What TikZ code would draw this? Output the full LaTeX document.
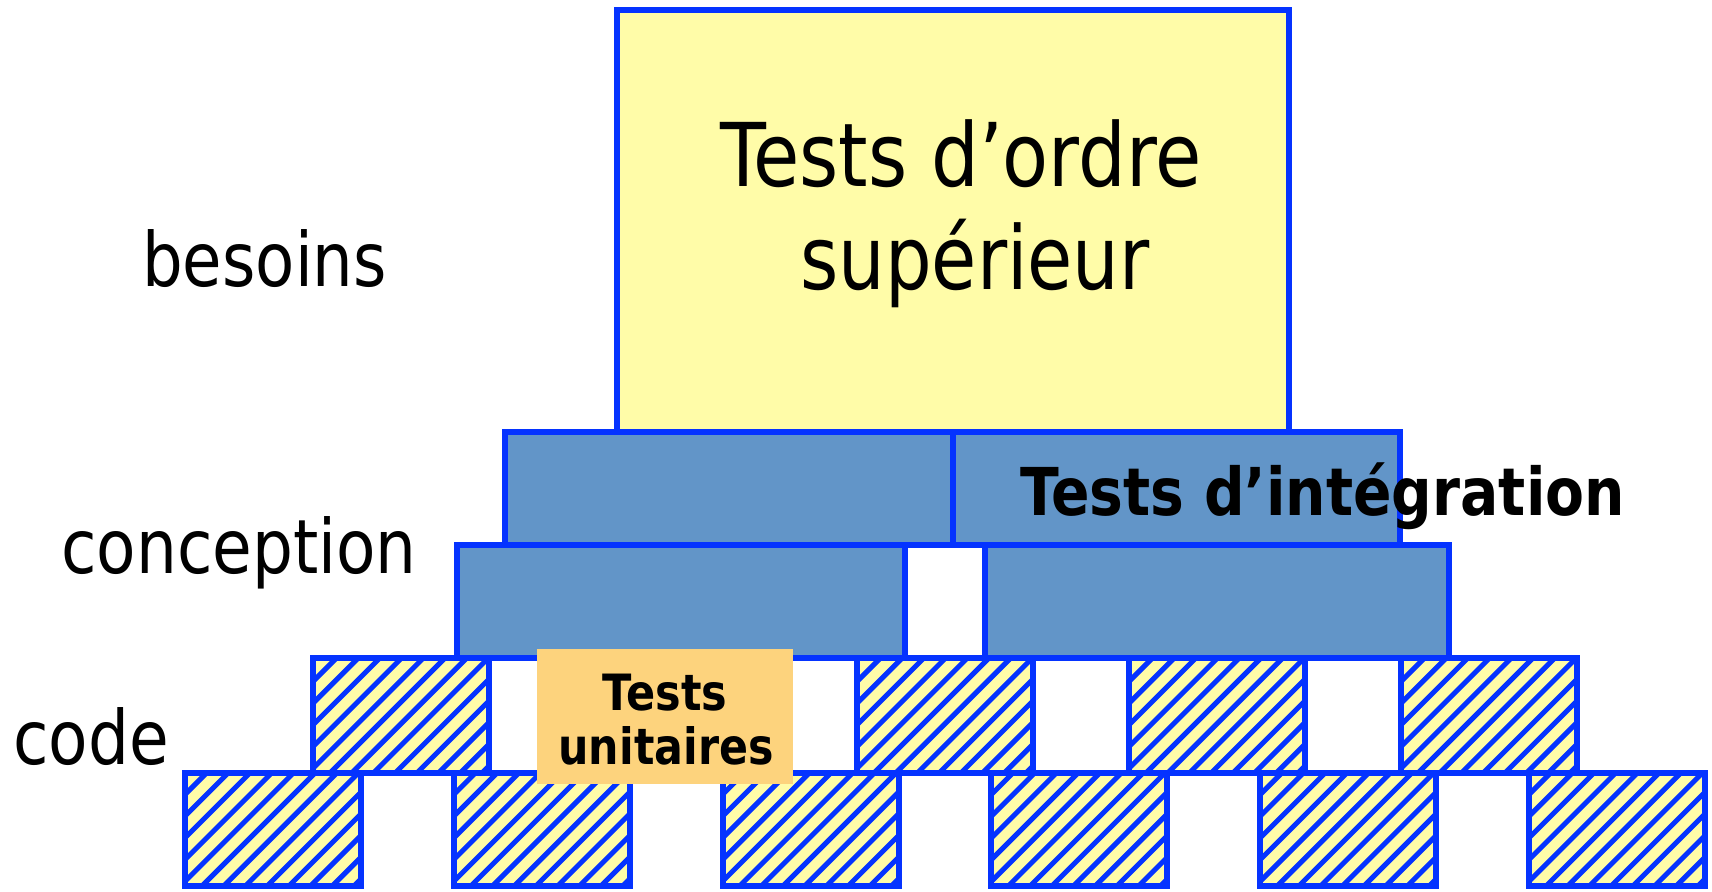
\documentclass[tikz,border=0pt]{standalone}
\usepackage{fontspec}
\setmainfont{DejaVu Sans}
\usepackage{graphicx}
\definecolor{edge}{RGB}{5,51,255}
\definecolor{steel}{RGB}{98,149,200}
\definecolor{pale}{RGB}{255,252,168}
\definecolor{sand}{RGB}{253,211,125}
\begin{document}
\begin{tikzpicture}[x=1pt,y=-1pt,
  boxbase/.style={rectangle, draw=edge, line width=6pt, inner sep=0pt, outer sep=0pt},
  topbox/.style={boxbase, fill=pale},
  bluebox/.style={boxbase, fill=steel, minimum height=113pt},
  hatched/.style={boxbase, fill=pale, minimum width=176pt, path picture={
     \foreach \k in {0,...,20}{\draw[edge, line width=5pt] ([xshift=\k*21.7pt-200pt]path picture bounding box.south west) -- ++(260pt,260pt);}
  }},
  sidelabel/.style={inner sep=0pt, anchor=base west, font=\fontsize{75}{90}\selectfont},
  toptext/.style={inner sep=0pt, anchor=base, font=\fontsize{88}{100}\selectfont},
  unittext/.style={inner sep=0pt, anchor=base, font=\fontsize{50}{60}\selectfont\bfseries},
]
\useasboundingbox (0,0) rectangle (1712,891);

% top box
\node[topbox, minimum width=672pt, minimum height=422pt] (sup) at (953,221) {};

% integration boxes
\node[bluebox, minimum width=448pt] (i1) at (729,488.5) {};
\node[bluebox, minimum width=447pt] (i2) at (1176.5,488.5) {};
\node[bluebox, minimum width=448pt] (i3) at (681,601.5) {};
\node[bluebox, minimum width=464pt] (i4) at (1217,601.5) {};

% unit boxes, upper row
\node[hatched, minimum height=115pt] (u1) at (401,715.5) {};
\node[hatched, minimum height=115pt] (u2) at (945,715.5) {};
\node[hatched, minimum height=115pt] (u3) at (1217,715.5) {};
\node[hatched, minimum height=115pt] (u4) at (1489,715.5) {};

% unit boxes, lower row
\node[hatched, minimum height=113pt] (l1) at (273,829.5) {};
\node[hatched, minimum height=113pt] (l2) at (541.8,829.5) {};
\node[hatched, minimum height=113pt] (l3) at (810.6,829.5) {};
\node[hatched, minimum height=113pt] (l4) at (1079.4,829.5) {};
\node[hatched, minimum height=113pt] (l5) at (1348.2,829.5) {};
\node[hatched, minimum height=113pt] (l6) at (1617,829.5) {};

% unit test label box
\node[rectangle, fill=sand, inner sep=0pt, minimum width=256pt, minimum height=135pt] (ut) at (665,716.5) {};
\node[unittext] (ut1) at (665,710) {\scalebox{0.86}[1]{Tests}};
\node[unittext] (ut2) at (666,764) {\scalebox{0.855}[1]{unitaires}};

% texts
\node[toptext] (t1) at (961,186) {\scalebox{0.855}[1]{Tests d’ordre}};
\node[toptext] (t2) at (975,289) {\scalebox{0.835}[1]{supérieur}};
\node[inner sep=0pt, anchor=base west, font=\fontsize{66}{80}\selectfont\bfseries] (integ) at (1020,515) {\scalebox{0.86}[1]{Tests d’intégration}};

\node[sidelabel] (besoins) at (142,286) {\scalebox{0.855}[1]{besoins}};
\node[sidelabel] (conception) at (61,573) {\scalebox{0.86}[1]{conception}};
\node[sidelabel] (code) at (13,764) {\scalebox{0.86}[1]{code}};
\end{tikzpicture}
\end{document}
